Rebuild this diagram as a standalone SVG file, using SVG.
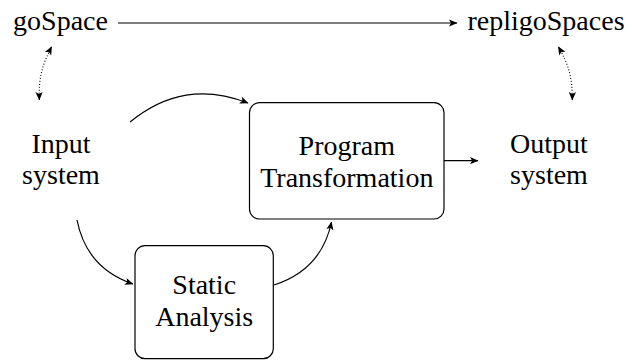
<svg xmlns="http://www.w3.org/2000/svg" width="632" height="361" viewBox="0 0 632 361">
  <style>
    .lbl { font-size: 28px; fill: #000; text-anchor: middle; font-family: "Liberation Serif", "Times New Roman", serif; }
    .box { fill: #fff; stroke: #000; stroke-width: 1.2; }
    .edge { fill: none; stroke: #000; stroke-width: 1.2; marker-end: url(#tip); }
    .dotted { fill: none; stroke: #000; stroke-width: 1.1; stroke-dasharray: 1 2; marker-start: url(#tip); marker-end: url(#tip); }
  </style>
  <defs>
    <!-- stealth-style arrowhead, reused at both ends of the dotted links -->
    <marker id="tip" viewBox="-9 -5 10 10" refX="0" refY="0" markerWidth="10" markerHeight="10" markerUnits="userSpaceOnUse" orient="auto-start-reverse">
      <path d="M0.5,0 L-8,-3.6 L-6,0 L-8,3.6 z" fill="#000"/>
    </marker>
  </defs>

  <!-- labels without frames -->
  <g id="goSpace"><text class="lbl" x="60.5" y="30">goSpace</text></g>
  <g id="repligoSpaces"><text class="lbl" x="546" y="30">repligoSpaces</text></g>
  <g id="input"><text class="lbl" x="61" y="153">Input</text><text class="lbl" x="61" y="184">system</text></g>
  <g id="output"><text class="lbl" x="549" y="153">Output</text><text class="lbl" x="549" y="184">system</text></g>

  <!-- framed processing steps -->
  <g id="transformation">
    <rect class="box" x="249.5" y="102.7" width="194.5" height="116.3" rx="10"/>
    <text class="lbl" x="346.8" y="155">Program</text>
    <text class="lbl" x="346.8" y="186.5">Transformation</text>
  </g>
  <g id="analysis">
    <rect class="box" x="135" y="245.7" width="138.3" height="113" rx="10"/>
    <text class="lbl" x="204.2" y="293.5">Static</text>
    <text class="lbl" x="204.2" y="325.5">Analysis</text>
  </g>

  <!-- connectors -->
  <g id="connectors">
    <path class="edge" d="M118,23 L457,23"/>
    <path class="edge" d="M444,160.7 L478,160.7"/>
    <path class="edge" d="M130,122 C166.4,92.5 204.3,86.2 248,103"/>
    <path class="edge" d="M77,220 C83.4,252.4 101.8,273.4 133,284"/>
    <path class="edge" d="M274,285 C305.4,274.9 324.8,254 331.5,222"/>
    <path class="dotted" d="M39.3,100 C38.6,78.6 41.7,65.6 51.7,46.7"/>
    <path class="dotted" d="M572.3,100 C572.4,78.6 569.3,65.6 558.3,46.7"/>
  </g>
</svg>
